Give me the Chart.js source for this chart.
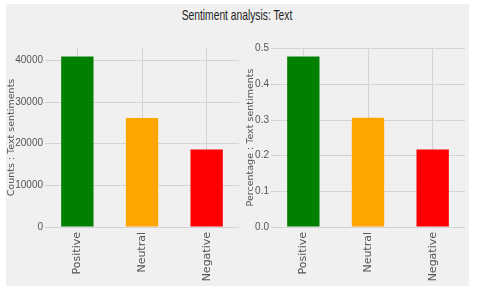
<!DOCTYPE html>
<html>
<head>
<meta charset="utf-8">
<script src="https://cdn.jsdelivr.net/npm/chart.js@4"></script>
<style>
  html, body { margin: 0; padding: 0; background: #ffffff; width: 480px; height: 294px; overflow: hidden; }
  #bg { position: absolute; left: 6px; top: 4px; width: 463px; height: 282px; background: #f0f0f0; }
  #title { position: absolute; left: 0; top: 6px; width: 474px; text-align: center;
           font-family: "Liberation Sans", sans-serif; font-size: 15px;
           color: #222; transform: scaleX(0.685); transform-origin: 237px 0; }
  canvas { position: absolute; }
  #c1 { left: 6px; top: 40px; }
  #c2 { left: 240px; top: 40px; }
</style>
</head>
<body>
<div id="bg"></div>
<div id="title">Sentiment analysis: Text</div>
<canvas id="c1" width="234" height="246"></canvas>
<canvas id="c2" width="229" height="246"></canvas>
<script>
const categories = ["Positive", "Neutral", "Negative"];
const counts = [40950, 26200, 18600];
const percentages = [0.478, 0.306, 0.217];
const barColors = ["#008000", "#ffa500", "#ff0000"];
const countTicks = [0, 10000, 20000, 30000, 40000];
const percentTicks = [0.0, 0.1, 0.2, 0.3, 0.4, 0.5];

const gridColor = "#d3d3d3";
const tickColor = "#555555";

function makeChart(id, values, tickVals, yTitle, yWidth, titlePad, padRight, tickFmt) {
  const maxVal = Math.max(...values) * 1.05;
  return new Chart(document.getElementById(id), {
    type: "bar",
    data: {
      labels: categories,
      datasets: [{
        data: values,
        backgroundColor: barColors,
        borderWidth: 0,
        barPercentage: 0.5,
        categoryPercentage: 1.0
      }]
    },
    options: {
      responsive: false,
      animation: false,
      devicePixelRatio: 1,
      layout: { padding: { top: 7, right: padRight, bottom: 0, left: 0 } },
      plugins: { legend: { display: false }, tooltip: { enabled: false }, title: { display: false } },
      scales: {
        x: {
          grid: { color: gridColor, lineWidth: 1, offset: false, drawTicks: false },
          border: { display: false },
          ticks: {
            autoSkip: false, minRotation: 90, maxRotation: 90, padding: 5,
            color: tickColor, font: { family: "DejaVu Sans", size: 11 }
          },
          afterFit: (s) => { s.height = 59; }
        },
        y: {
          min: 0,
          max: maxVal,
          grid: { color: gridColor, lineWidth: 1, drawTicks: false },
          border: { display: false },
          afterBuildTicks: (s) => { s.ticks = tickVals.map(v => ({ value: v })); },
          ticks: {
            padding: 2,
            color: tickColor, font: { family: "Liberation Sans", size: 10 },
            callback: tickFmt
          },
          title: {
            display: true, text: yTitle, color: tickColor,
            font: { family: "DejaVu Sans", size: 9.5 },
            padding: { top: titlePad, bottom: 0 }
          },
          afterFit: (s) => { s.width = yWidth; }
        }
      }
    }
  });
}

makeChart("c1", counts, countTicks, "Counts : Text sentiments", 39, 0, 1,
  (v) => String(Math.round(v)));
makeChart("c2", percentages, percentTicks, "Percentage : Text sentiments", 31, 5, 4,
  (v) => Number(v).toFixed(1));
</script>
</body>
</html>
